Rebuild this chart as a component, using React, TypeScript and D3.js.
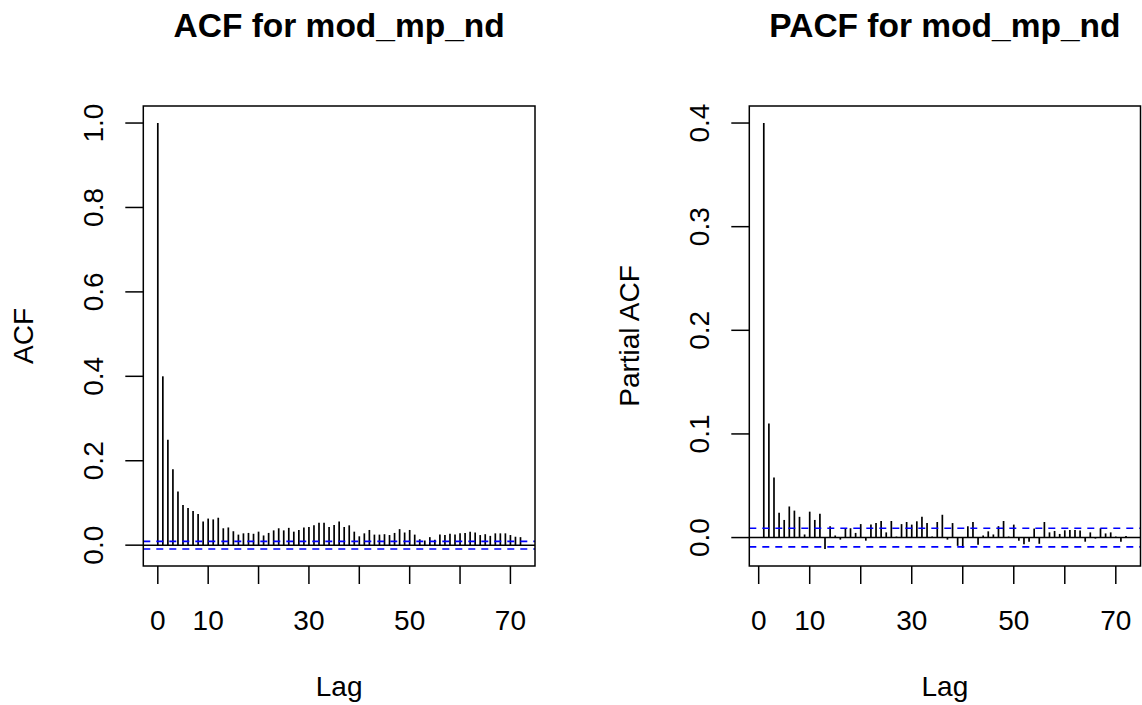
import React from 'react';
import * as d3 from 'd3';

// values
const acfValues = [
  1.0, 0.4, 0.25, 0.18, 0.127, 0.095, 0.088, 0.081, 0.074, 0.056,
  0.063, 0.061, 0.065, 0.04, 0.042, 0.033, 0.025, 0.028, 0.029, 0.027,
  0.032, 0.023, 0.029, 0.035, 0.04, 0.035, 0.041, 0.032, 0.036, 0.042,
  0.043, 0.047, 0.053, 0.053, 0.043, 0.048, 0.056, 0.043, 0.047, 0.032,
  0.021, 0.028, 0.036, 0.025, 0.025, 0.026, 0.024, 0.029, 0.038, 0.03,
  0.036, 0.025, 0.014, 0.011, 0.019, 0.013, 0.025, 0.024, 0.027, 0.025,
  0.028, 0.029, 0.032, 0.03, 0.024, 0.026, 0.022, 0.028, 0.028, 0.028,
  0.024, 0.02, 0.019,
];
const acfLags = acfValues.map((_, i) => i);

const pacfValues = [
  0.4, 0.11, 0.058, 0.024, 0.017, 0.03, 0.026, 0.02, 0.003, 0.025,
  0.017, 0.023, -0.011, 0.011, 0.002, -0.002, 0.009, 0.009, 0.0045, 0.013,
  -0.003, 0.0125, 0.014, 0.016, 0.005, 0.016, 0.001, 0.013, 0.015, 0.0125,
  0.0157, 0.02, 0.014, 0.001, 0.015, 0.022, -0.002, 0.014, -0.008, -0.01,
  0.011, 0.015, -0.007, 0.002, 0.006, 0.003, 0.011, 0.016, 0.001, 0.0125,
  -0.003, -0.0065, -0.004, 0.0087, -0.006, 0.015, 0.005, 0.0064, 0.0035, 0.007,
  0.0074, 0.0074, 0.0067, -0.004, 0.005, -0.001, 0.009, 0.004, 0.005, 0.001,
  -0.004, 0.0015,
];
const pacfLags = pacfValues.map((_, i) => i + 1);

const ciBound = 0.009;
const xTicks = [0, 10, 20, 30, 40, 50, 60, 70];
const xTickLabels = [0, 10, 30, 50, 70];
const acfYTicks = [0, 0.2, 0.4, 0.6, 0.8, 1.0];
const pacfYTicks = [0, 0.1, 0.2, 0.3, 0.4];

const FONT = '"Liberation Sans", Arial, Helvetica, sans-serif';

// R style range with 4% extension
const rRange = (vals: number[]) => {
  const [lo, hi] = d3.extent(vals) as [number, number];
  const pad = (hi - lo) * 0.04;
  return [lo - pad, hi + pad];
};

type PanelProps = {
  title: string;
  ylab: string;
  lags: number[];
  values: number[];
  yTicks: number[];
  left: number;
  right: number;
};

const Panel = ({ title, ylab, lags, values, yTicks, left, right }: PanelProps) => {
  const top = 106;
  const bottom = 566;

  const x = d3.scaleLinear().domain(rRange(lags)).range([left, right]);
  const y = d3.scaleLinear()
    .domain(rRange([...values, -ciBound, ciBound]))
    .range([bottom, top]);

  const cx = (left + right) / 2;
  const fmt = d3.format('.1f');

  return (
    <g fontFamily={FONT} fill="#000">
      <text x={cx} y={37} textAnchor="middle" fontSize={33.5} fontWeight="bold">{title}</text>

      {/* bars */}
      {values.map((v, i) => (
        <line key={i} x1={x(lags[i])} x2={x(lags[i])} y1={y(0)} y2={y(v)}
          stroke="#000" strokeWidth={1.7} />
      ))}

      <line x1={left} x2={right} y1={y(0)} y2={y(0)} stroke="#000" strokeWidth={1.5} />
      {[ciBound, -ciBound].map(c => (
        <line key={c} x1={left} x2={right} y1={y(c)} y2={y(c)}
          stroke="#0000ff" strokeWidth={1.6} strokeDasharray="7,6" />
      ))}

      <rect x={left} y={top} width={right - left} height={bottom - top}
        fill="none" stroke="#000" strokeWidth={1.5} />

      {/* x axis */}
      {xTicks.map(t => (
        <line key={t} x1={x(t)} x2={x(t)} y1={bottom} y2={bottom + 18} stroke="#000" strokeWidth={1.5} />
      ))}
      {xTickLabels.map(t => (
        <text key={t} x={x(t)} y={630} textAnchor="middle" fontSize={28}>{t}</text>
      ))}
      <text x={cx} y={696} textAnchor="middle" fontSize={28}>Lag</text>

      {/* y axis */}
      {yTicks.map(t => (
        <g key={t}>
          <line x1={left - 18} x2={left} y1={y(t)} y2={y(t)} stroke="#000" strokeWidth={1.5} />
          <text transform={`translate(${left - 40},${y(t)}) rotate(-90)`} textAnchor="middle" fontSize={28}>
            {fmt(t)}
          </text>
        </g>
      ))}
      <text transform={`translate(${left - 110},${(top + bottom) / 2}) rotate(-90)`}
        textAnchor="middle" fontSize={28}>{ylab}</text>
    </g>
  );
};

export default function App() {
  return (
    <svg width={1142} height={705} style={{ position: 'absolute', left: 0, top: 0, background: '#fff' }}>
      <rect width={1142} height={705} fill="#fff" />
      <Panel title="ACF for mod_mp_nd" ylab="ACF" lags={acfLags} values={acfValues}
        yTicks={acfYTicks} left={143.3} right={535} />
      <Panel title="PACF for mod_mp_nd" ylab="Partial ACF" lags={pacfLags} values={pacfValues}
        yTicks={pacfYTicks} left={749.3} right={1140.5} />
    </svg>
  );
}
